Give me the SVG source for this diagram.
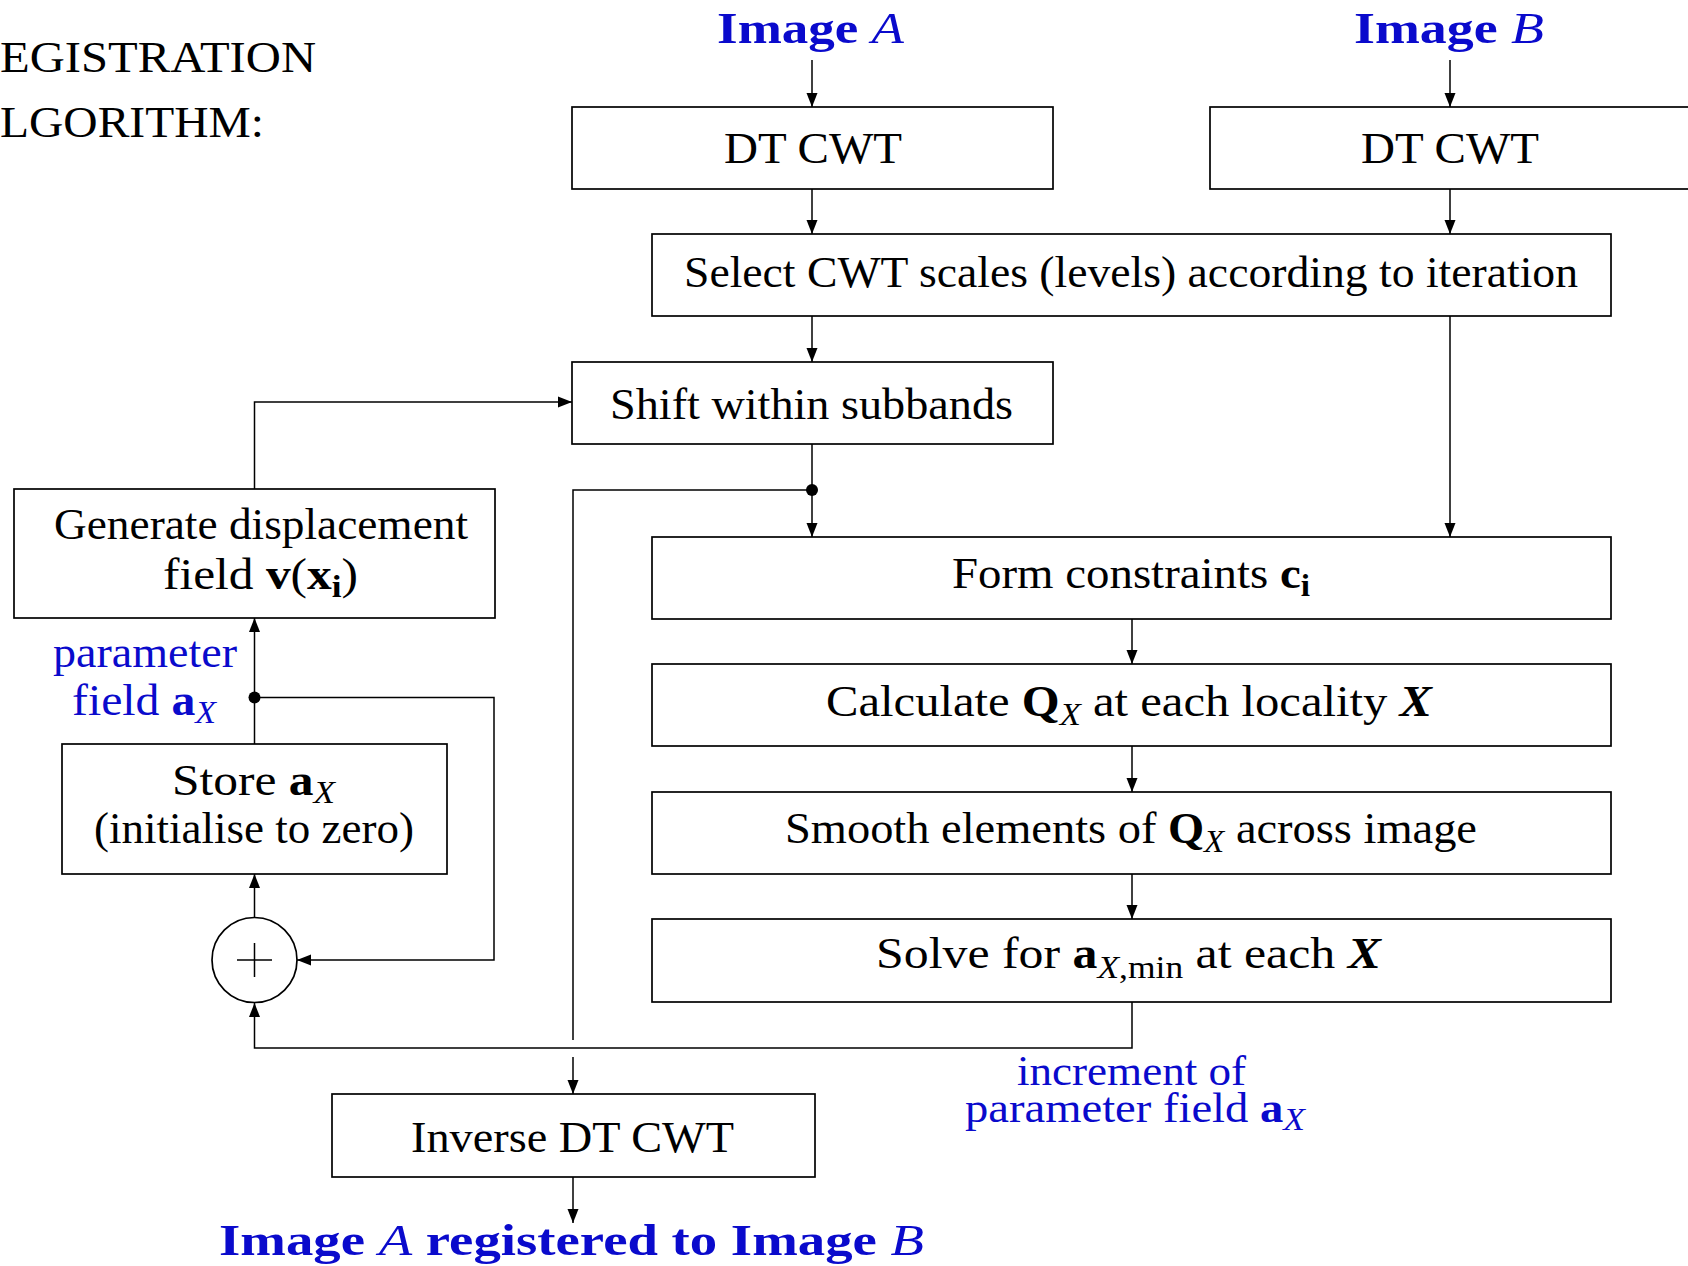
<svg xmlns="http://www.w3.org/2000/svg" width="1688" height="1266" viewBox="0 0 1688 1266">
<defs>
<style>
text{font-family:"Liberation Serif","DejaVu Serif",serif;font-size:45px;fill:#000}
.blue{fill:#0a0acc}
.b{font-weight:bold}
.i{font-style:italic}
.box{fill:#fff;stroke:#000;stroke-width:1.7}
.conn{fill:none;stroke:#000;stroke-width:1.5}
.sub{font-size:32px}
.lab{font-size:42px}
</style>
<marker id="arr" markerUnits="userSpaceOnUse" markerWidth="16" markerHeight="14" refX="14" refY="6" orient="auto">
<path d="M0,0.5 L14,6 L0,11.5 Z" fill="#000"/>
</marker>
</defs>

<g id="title">
<text x="0" y="72" textLength="316" lengthAdjust="spacingAndGlyphs">EGISTRATION</text>
<text x="0" y="137" textLength="264" lengthAdjust="spacingAndGlyphs">LGORITHM:</text>
</g>

<g id="connectors">
<path class="conn" d="M812,60 V107" marker-end="url(#arr)"/>
<path class="conn" d="M1450,60 V107" marker-end="url(#arr)"/>
<path class="conn" d="M812,189 V234" marker-end="url(#arr)"/>
<path class="conn" d="M1450,189 V234" marker-end="url(#arr)"/>
<path class="conn" d="M812,316 V362" marker-end="url(#arr)"/>
<path class="conn" d="M1450,316 V537" marker-end="url(#arr)"/>
<path class="conn" d="M812,444 V537" marker-end="url(#arr)"/>
<path class="conn" d="M812,490 H573 V1040"/>
<path class="conn" d="M573,1057 V1094" marker-end="url(#arr)"/>
<path class="conn" d="M573,1177 V1223" marker-end="url(#arr)"/>
<path class="conn" d="M1132,619 V664" marker-end="url(#arr)"/>
<path class="conn" d="M1132,746 V792" marker-end="url(#arr)"/>
<path class="conn" d="M1132,874 V919" marker-end="url(#arr)"/>
<path class="conn" d="M1132,1002 V1048 H254.5 V1003" marker-end="url(#arr)"/>
<path class="conn" d="M254.5,917.5 V874" marker-end="url(#arr)"/>
<path class="conn" d="M254.5,744 V697.5"/>
<path class="conn" d="M254.5,697.5 V618" marker-end="url(#arr)"/>
<path class="conn" d="M254.5,697.5 H494 V960 H297" marker-end="url(#arr)"/>
<path class="conn" d="M254.5,489 V402 H572" marker-end="url(#arr)"/>
<circle cx="812" cy="490" r="6" fill="#000"/>
<circle cx="254.5" cy="697.5" r="6" fill="#000"/>
</g>

<g id="imageA">
<text class="blue" x="717" y="43" textLength="187" lengthAdjust="spacingAndGlyphs"><tspan class="b">Image</tspan> <tspan class="i">A</tspan></text>
</g>
<g id="imageB">
<text class="blue" x="1354" y="43" textLength="190" lengthAdjust="spacingAndGlyphs"><tspan class="b">Image</tspan> <tspan class="i">B</tspan></text>
</g>

<g id="dtcwtA">
<rect class="box" x="572" y="107" width="481" height="82"/>
<text x="724" y="163" textLength="178" lengthAdjust="spacingAndGlyphs">DT CWT</text>
</g>
<g id="dtcwtB">
<rect class="box" x="1210" y="107" width="481" height="82"/>
<text x="1361" y="163" textLength="178" lengthAdjust="spacingAndGlyphs">DT CWT</text>
</g>

<g id="select">
<rect class="box" x="652" y="234" width="959" height="82"/>
<text x="684" y="287" textLength="894" lengthAdjust="spacingAndGlyphs">Select CWT scales (levels) according to iteration</text>
</g>

<g id="shift">
<rect class="box" x="572" y="362" width="481" height="82"/>
<text x="610" y="419" textLength="403" lengthAdjust="spacingAndGlyphs">Shift within subbands</text>
</g>

<g id="generate">
<rect class="box" x="14" y="489" width="481" height="129"/>
<text x="54" y="539" textLength="414" lengthAdjust="spacingAndGlyphs">Generate displacement</text>
<text x="163" y="589" textLength="195" lengthAdjust="spacingAndGlyphs">field <tspan class="b">v</tspan>(<tspan class="b">x</tspan><tspan class="b sub" dy="8">i</tspan><tspan dy="-8">)</tspan></text>
</g>

<g id="form">
<rect class="box" x="652" y="537" width="959" height="82"/>
<text x="952" y="588" textLength="358" lengthAdjust="spacingAndGlyphs">Form constraints <tspan class="b">c</tspan><tspan class="b sub" dy="8">i</tspan></text>
</g>

<g id="calculate">
<rect class="box" x="652" y="664" width="959" height="82"/>
<text x="826" y="716" textLength="606" lengthAdjust="spacingAndGlyphs">Calculate <tspan class="b">Q</tspan><tspan class="i sub" dy="9">X</tspan><tspan dy="-9"> at each locality </tspan><tspan class="i b">X</tspan></text>
</g>

<g id="smooth">
<rect class="box" x="652" y="792" width="959" height="82"/>
<text x="785" y="843" textLength="692" lengthAdjust="spacingAndGlyphs">Smooth elements of <tspan class="b">Q</tspan><tspan class="i sub" dy="9">X</tspan><tspan dy="-9"> across image</tspan></text>
</g>

<g id="solve">
<rect class="box" x="652" y="919" width="959" height="83"/>
<text x="876" y="968" textLength="505" lengthAdjust="spacingAndGlyphs">Solve for <tspan class="b">a</tspan><tspan class="sub" dy="10"><tspan class="i">X</tspan>,min</tspan><tspan dy="-10"> at each </tspan><tspan class="i b">X</tspan></text>
</g>

<g id="store">
<rect class="box" x="62" y="744" width="385" height="130"/>
<text x="172" y="795" textLength="163" lengthAdjust="spacingAndGlyphs">Store <tspan class="b">a</tspan><tspan class="i sub" dy="8">X</tspan></text>
<text x="94" y="843" textLength="320" lengthAdjust="spacingAndGlyphs">(initialise to zero)</text>
</g>

<g id="adder">
<circle cx="254.5" cy="960" r="42.5" fill="#fff" stroke="#000" stroke-width="1.7"/>
<path d="M237,960 H272 M254.5,943 V977" stroke="#000" stroke-width="1.5"/>
</g>

<g id="inverse">
<rect class="box" x="332" y="1094" width="483" height="83"/>
<text x="411" y="1152" textLength="323" lengthAdjust="spacingAndGlyphs">Inverse DT CWT</text>
</g>

<g id="labels">
<text class="blue" x="53" y="667" textLength="184" lengthAdjust="spacingAndGlyphs">parameter</text>
<text class="blue" x="72" y="715" textLength="144" lengthAdjust="spacingAndGlyphs">field <tspan class="b">a</tspan><tspan class="i sub" dy="8">X</tspan></text>
<text class="blue lab" x="1017" y="1085" textLength="229" lengthAdjust="spacingAndGlyphs">increment of</text>
<text class="blue lab" x="965" y="1122" textLength="340" lengthAdjust="spacingAndGlyphs">parameter field <tspan class="b">a</tspan><tspan class="i sub" dy="8">X</tspan></text>
</g>

<g id="output">
<text class="blue" x="219" y="1255" textLength="705" lengthAdjust="spacingAndGlyphs"><tspan class="b">Image</tspan> <tspan class="i">A</tspan> <tspan class="b">registered to Image</tspan> <tspan class="i">B</tspan></text>
</g>
</svg>
